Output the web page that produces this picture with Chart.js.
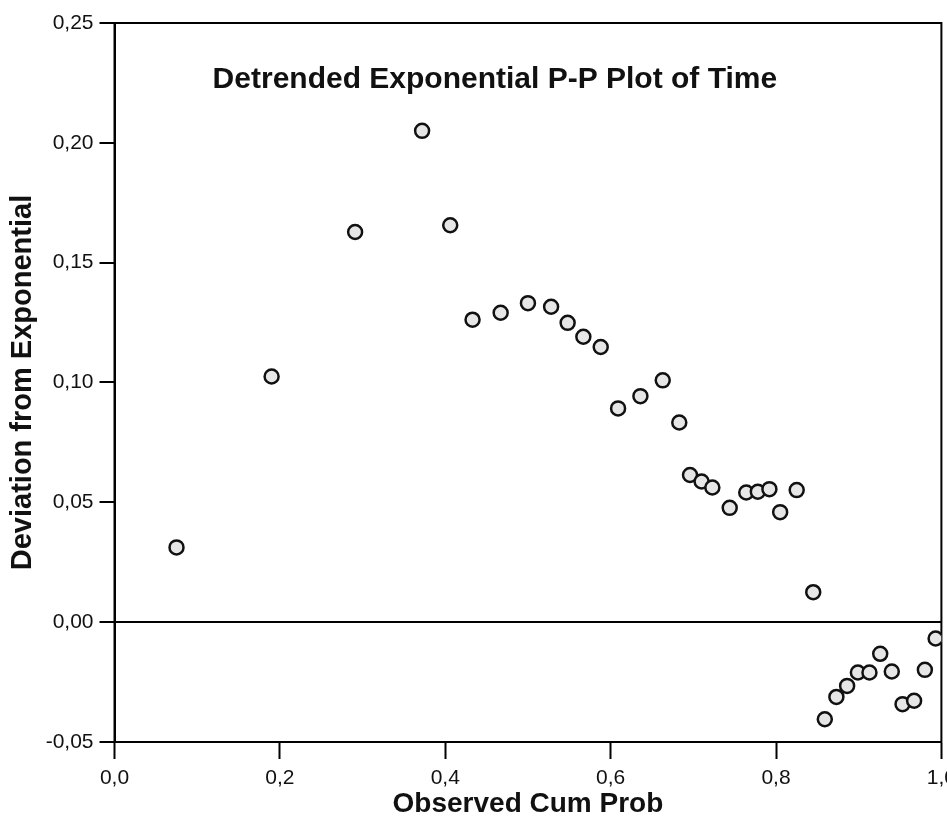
<!DOCTYPE html>
<html>
<head>
<meta charset="utf-8">
<script src="https://cdn.jsdelivr.net/npm/chart.js@4.4.1/dist/chart.umd.min.js"></script>
<style>
    html, body { margin: 0; padding: 0; background: #fff; overflow: hidden; }
    #chartBox { position: relative; width: 963px; height: 826px; }
</style>
</head>
<body>
<div id="chartBox"><canvas id="ppCanvas"></canvas></div>
<script>
const chartTitle = "Detrended Exponential P-P Plot of Time";
const xTitle = "Observed Cum Prob";
const yTitle = "Deviation from Exponential";

const obsCumProb = [
    0.075, 0.190, 0.291, 0.372, 0.406, 0.433, 0.467, 0.500, 0.528, 0.548,
    0.567, 0.588, 0.609, 0.636, 0.663, 0.683, 0.696, 0.710, 0.723, 0.744,
    0.764, 0.778, 0.792, 0.805, 0.825, 0.845, 0.859, 0.873, 0.886, 0.899,
    0.913, 0.926, 0.940, 0.953, 0.967, 0.980, 0.993
];
const deviation = [
    0.0312, 0.1025, 0.1628, 0.2050, 0.1656, 0.1262, 0.1291, 0.1331, 0.1316, 0.1249,
    0.1191, 0.1148, 0.0892, 0.0943, 0.1009, 0.0833, 0.0614, 0.0587, 0.0562, 0.0477,
    0.0541, 0.0544, 0.0555, 0.0459, 0.0551, 0.0125, -0.0405, -0.0312, -0.0266, -0.0210,
    -0.0210, -0.0132, -0.0206, -0.0342, -0.0328, -0.0199, -0.0068
];

const xTicks = [0, 0.2, 0.4, 0.6, 0.8, 1.0];
const yTicks = [-0.05, 0, 0.05, 0.10, 0.15, 0.20, 0.25];

const fontFamily = "'Liberation Sans', Arial, sans-serif";

var ppChart;

initChart();

function commaNum(value, digits){
    return value.toFixed(digits).replace(".", ",");
}

function isZero(c){
    return c.tick && Math.abs(c.tick.value) < 1e-9;
}

function initChart(){
    const points = obsCumProb.map((x, i) => ({x: x, y: deviation[i]}));

    const frameAndTitle = {
        id: "frameAndTitle",
        beforeDatasetsDraw(chart){
            const {ctx, chartArea} = chart;
            ctx.save();
            ctx.strokeStyle = "#000";
            ctx.lineWidth = 2;
            ctx.strokeRect(chartArea.left, chartArea.top, chartArea.right - chartArea.left, chartArea.bottom - chartArea.top);
            ctx.restore();
        },
        afterDraw(chart){
            const {ctx, chartArea} = chart;
            ctx.save();
            ctx.font = "bold 30px " + fontFamily;
            ctx.fillStyle = "#111";
            ctx.textAlign = "center";
            ctx.textBaseline = "alphabetic";
            ctx.fillText(chartTitle, chartArea.left + 0.46 * (chartArea.right - chartArea.left), chartArea.top + 65);
            ctx.restore();
        }
    };

    ppChart = new Chart(document.getElementById("ppCanvas"), {
        type: "scatter",
        data: {
            datasets: [{
                data: points,
                pointRadius: 7,
                pointHoverRadius: 7,
                pointBorderWidth: 2.5,
                pointBorderColor: "#111",
                pointBackgroundColor: "#e6e6e6"
            }]
        },
        options: {
            responsive: true,
            maintainAspectRatio: false,
            animation: false,
            layout: { padding: { top: 23, right: 16, left: 0, bottom: 0 } },
            plugins: {
                legend: { display: false },
                tooltip: { enabled: false },
                title: { display: false }
            },
            scales: {
                x: {
                    type: "linear",
                    min: 0,
                    max: 1,
                    afterBuildTicks: (scale) => { scale.ticks = xTicks.map(v => ({value: v})); },
                    afterFit: (scale) => { scale.height = 84; },
                    ticks: {
                        callback: (value) => commaNum(value, 1),
                        color: "#111",
                        font: { family: fontFamily, size: 21 },
                        padding: 7,
                        maxRotation: 0
                    },
                    grid: {
                        drawOnChartArea: false,
                        drawTicks: true,
                        tickLength: 17,
                        tickWidth: 2,
                        tickColor: "#000"
                    },
                    border: { display: true, color: "#000", width: 2 },
                    title: {
                        display: true,
                        text: xTitle,
                        color: "#111",
                        font: { family: fontFamily, size: 28, weight: "bold" },
                        padding: { top: 0, bottom: 5 }
                    }
                },
                y: {
                    type: "linear",
                    min: -0.05,
                    max: 0.25,
                    afterBuildTicks: (scale) => { scale.ticks = yTicks.map(v => ({value: v})); },
                    afterFit: (scale) => { scale.width = 114.5; },
                    ticks: {
                        callback: (value) => commaNum(value, 2),
                        color: "#111",
                        font: { family: fontFamily, size: 21 },
                        padding: 6
                    },
                    grid: {
                        drawOnChartArea: true,
                        drawTicks: true,
                        tickLength: 15,
                        tickWidth: 2,
                        tickColor: "#000",
                        lineWidth: (c) => (isZero(c) ? 2 : 0),
                        color: (c) => (isZero(c) ? "#000" : "rgba(0,0,0,0)")
                    },
                    border: { display: true, color: "#000", width: 2 },
                    title: {
                        display: true,
                        text: yTitle,
                        color: "#111",
                        font: { family: fontFamily, size: 29, weight: "bold" },
                        padding: { top: 6, bottom: 0 }
                    }
                }
            }
        },
        plugins: [frameAndTitle]
    });
}
</script>
</body>
</html>
